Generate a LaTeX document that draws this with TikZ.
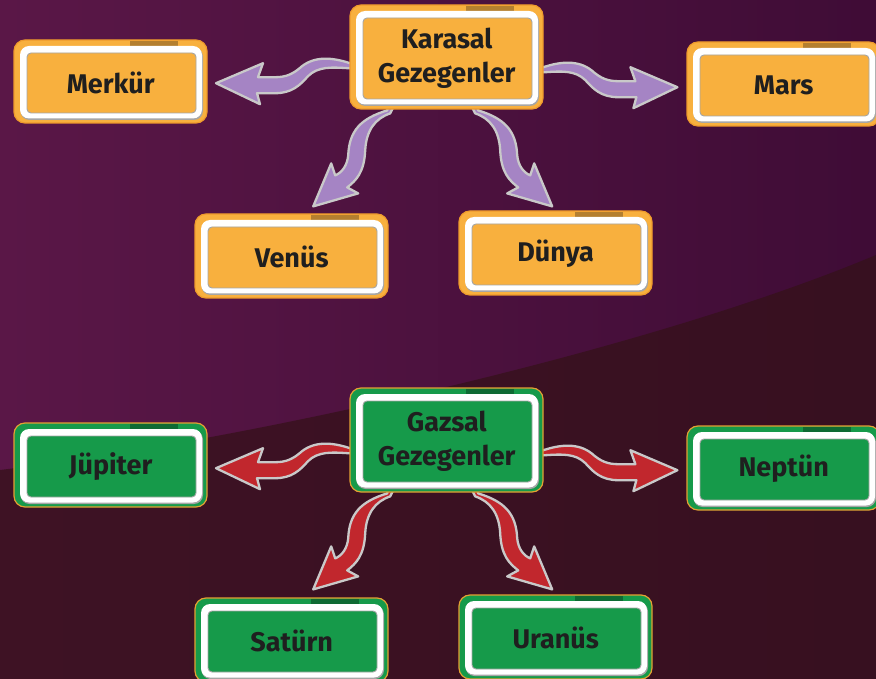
\documentclass[tikz,border=0pt]{standalone}
\usepackage{fontspec}
\setmainfont{Fira Sans}
\usetikzlibrary{calc}
\definecolor{bgA}{HTML}{5A1747}
\definecolor{bgB}{HTML}{3F0C36}
\definecolor{bgLow}{HTML}{3E1224}
\definecolor{bgLowB}{HTML}{371020}
\definecolor{omain}{HTML}{F8B03E}
\definecolor{oedge}{HTML}{EE9A2C}
\definecolor{otab}{HTML}{B47F2F}
\definecolor{gmain}{HTML}{169A4A}
\definecolor{gedge}{HTML}{E3A033}
\definecolor{gtab}{HTML}{0E6A33}
\definecolor{arrpurple}{HTML}{A584C4}
\definecolor{arrred}{HTML}{C1272D}
\definecolor{arrgrey}{HTML}{C9C9C9}
\definecolor{txtcol}{HTML}{1F1F1F}
\pgfdeclarelayer{bg}
\pgfdeclarelayer{arr}
\pgfsetlayers{bg,arr,main}
\tikzset{
  sidearr/.pic={\path[pic actions] (4,-1) -- (0,0) .. controls (-18,-6) and (-35,-7) .. (-48,3)
     .. controls (-57,11) and (-64,14) .. (-75,14) -- (-92,14) -- (-87,0) -- (-134,20)
     -- (-90,41) -- (-93,30) -- (-75,30) .. controls (-58,30) and (-50,22) .. (-42,13)
     .. controls (-32,3) and (-18,4) .. (-2,5) -- (4,5) -- cycle;},
  downarr/.pic={\path[pic actions] (1,-4) -- (0,0) .. controls (-26,8) and (-38,20) .. (-39,45)
     .. controls (-40,55) and (-45,62) .. (-52,65) -- (-56,53) -- (-74,96) -- (-29,83)
     -- (-40,77) .. controls (-31,70) and (-23,62) .. (-22,40)
     .. controls (-21,20) and (-12,8) .. (3,3) -- (6,-3) -- cycle;},
  purplearr/.style={fill=arrpurple, draw=arrgrey, line width=2.3pt, line join=round},
  redarr/.style={fill=arrred, draw=arrgrey, line width=2.3pt, line join=round},
  boxtext/.style={font=\fontsize{27}{34}\selectfont\bfseries, text=txtcol, align=center,
     inner sep=0pt, anchor=north west, minimum width=193pt},
}
% #1 name, #2 x, #3 y, #4 height, #5 colour prefix (o/g), #6 text
\newcommand{\pbox}[6]{%
  \begin{scope}[shift={(#2,#3)}]
    \filldraw[fill=#5main, draw=#5edge, line width=1.2pt, rounded corners=11pt] (0,0) rectangle (193,#4);
    \fill[#5tab] (116,0.6) rectangle (164,5.6);
    \fill[black!35, rounded corners=9pt] (6.5,7.5) rectangle (189,#4-3);
    \fill[white, rounded corners=9pt] (6,6) rectangle (188,#4-4.5);
    \filldraw[fill=#5main, draw=black!35, line width=0.9pt, rounded corners=4pt] (13,13) rectangle (182,#4-10);
    \node[boxtext, minimum height=#4pt] (#1) at (0,1) {#6};
  \end{scope}}
\begin{document}
\begin{tikzpicture}[x=1pt, y=-1pt]
\useasboundingbox (0,0) rectangle (876,679);
\begin{pgfonlayer}{bg}
  \shade[left color=bgA, right color=bgB] (0,0) rectangle (876,679);
  \shade[left color=bgLow, right color=bgLowB] (0,470) .. controls (250,440) and (650,350) .. (876,255)
     -- (876,679) -- (0,679) -- cycle;
\end{pgfonlayer}
\clip (0,0) rectangle (876,679);
% terrestrial planets
\pbox{K}{350}{5}{104}{o}{Karasal\\Gezegenler}
\pbox{merkur}{14}{40}{83}{o}{Merkür}
\pbox{mars}{687}{42}{84}{o}{Mars}
\pbox{venus}{195}{214}{84}{o}{Venüs}
\pbox{dunya}{459}{211}{84}{o}{Dünya}
% gas planets
\pbox{G}{350}{388}{104}{g}{Gazsal\\Gezegenler}
\pbox{jupiter}{14}{423}{84}{g}{Jüpiter}
\pbox{neptun}{687}{426}{84}{g}{Neptün}
\pbox{saturn}{195}{598}{84}{g}{Satürn}
\pbox{uranus}{459}{595}{84}{g}{Uranüs}
\begin{pgfonlayer}{arr}
  \pic[purplearr] at ($(K.west)+(0,5)$) {sidearr};
  \pic[purplearr, xscale=-1] at ($(K.east)+(0,9)$) {sidearr};
  \pic[purplearr] at ($(K.south)+(-59.5,0)$) {downarr};
  \pic[purplearr, xscale=-1] at ($(K.south)+(31.5,0)$) {downarr};
  \pic[redarr] at ($(G.west)+(0,7)$) {sidearr};
  \pic[redarr, xscale=-1] at ($(G.east)+(0,9)$) {sidearr};
  \pic[redarr] at ($(G.south)+(-59.5,0)$) {downarr};
  \pic[redarr, xscale=-1] at ($(G.south)+(31.5,0)$) {downarr};
\end{pgfonlayer}
\end{tikzpicture}
\end{document}
